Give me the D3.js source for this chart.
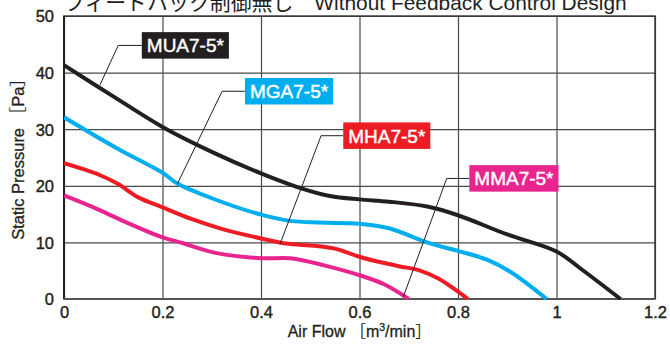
<!DOCTYPE html>
<html><head><meta charset="utf-8">
<script src="https://cdn.jsdelivr.net/npm/d3@7/dist/d3.min.js"></script>
<style>
html,body{margin:0;padding:0;background:#fff;}
svg{display:block;font-family:"Liberation Sans",Arial,Helvetica,sans-serif;}
</style></head>
<body><svg id="c" width="670" height="346"></svg>
<script>
// ---- data ----
const xTicks = [0, 0.2, 0.4, 0.6, 0.8, 1.0, 1.2];
const yTicks = [0, 10, 20, 30, 40, 50];
const seriesNames = ["MUA7-5*", "MGA7-5*", "MHA7-5*", "MMA7-5*"];
const colors = ["#231f20", "#00aeef", "#ed1c24", "#e8258e"];

const muaFlow = [0, 0.1, 0.2, 0.3, 0.4, 0.48, 0.54, 0.6, 0.66, 0.74, 0.8, 0.9, 1.0, 1.05, 1.13];
const muaPres = [41.3, 35.8, 30.4, 26.0, 22.2, 19.6, 18.2, 17.6, 17.2, 16.3, 14.8, 11.4, 8.4, 5.3, 0];

const mgaFlow = [0, 0.11, 0.2, 0.23, 0.3, 0.4, 0.46, 0.52, 0.6, 0.66, 0.74, 0.8, 0.86, 0.91, 0.98];
const mgaPres = [32.1, 26.5, 22.3, 20.4, 17.8, 14.9, 13.8, 13.5, 13.3, 12.5, 9.9, 8.5, 6.9, 4.6, 0];

const mhaFlow = [0, 0.07, 0.11, 0.15, 0.2, 0.26, 0.32, 0.4, 0.45, 0.51, 0.55, 0.61, 0.68, 0.72, 0.76, 0.82];
const mhaPres = [24.0, 22.0, 20.3, 18.0, 16.2, 14.1, 12.4, 10.7, 9.8, 9.4, 8.9, 7.2, 5.8, 5.1, 3.6, 0];

const mmaFlow = [0, 0.07, 0.13, 0.2, 0.24, 0.31, 0.4, 0.46, 0.53, 0.6, 0.65, 0.7];
const mmaPres = [18.3, 15.8, 13.4, 10.9, 9.9, 8.1, 7.2, 7.2, 5.9, 4.2, 2.6, 0];

// label annotations (data units): box left x, box centre y, elbow x, target x, target y
const labelBoxX = [0.158, 0.3675, 0.567, 0.823];
const labelBoxY = [44.8, 36.7, 28.85, 21.3];
const elbowX = [0.110, 0.321, 0.522, 0.777];
const targetX = [0.073, 0.230, 0.4386, 0.689];
const targetY = [37.8, 20.3, 9.7, 0.4];

const titleText = "フィードバック制御無し\u3000Without Feedback Control Design";
const xTitle = "Air Flow";
const yTitle = "Static Pressure";

// ---- chart ----
const svg = d3.select("#c");
const M = {l: 64, r: 655, t: 16, b: 299};
const x = d3.scaleLinear().domain([0, 1.2]).range([M.l, M.r]);
const y = d3.scaleLinear().domain([0, 50]).range([M.b, M.t]);
const FF = "'Liberation Sans',Arial,'Noto Sans CJK JP',sans-serif";

// grid
const gx = svg.append("g").attr("transform", `translate(0,${M.b})`)
  .call(d3.axisBottom(x).tickValues(xTicks).tickSize(-(M.b - M.t)).tickFormat(d => d3.format("~g")(d)).tickPadding(6));
const gy = svg.append("g").attr("transform", `translate(${M.l},0)`)
  .call(d3.axisLeft(y).tickValues(yTicks).tickSize(-(M.r - M.l)).tickPadding(10));
[gx, gy].forEach(g => {
  g.select(".domain").remove();
  g.selectAll(".tick line").attr("stroke", "#4a4a4a").attr("stroke-width", 1.2);
  g.selectAll(".tick text").attr("fill", "#231f20").attr("font-size", 16.5)
    .attr("font-family", FF)
    .attr("stroke", "#231f20").attr("stroke-width", 0.4);
});
gy.selectAll(".tick text").attr("dy", "0.36em");
gx.selectAll(".tick text").attr("dy", "0.8em");

// frame
svg.append("rect").attr("x", M.l).attr("y", M.t).attr("width", M.r - M.l).attr("height", M.b - M.t)
  .attr("fill", "none").attr("stroke", "#333").attr("stroke-width", 1.4);
svg.append("line").attr("x1", M.l).attr("x2", M.l).attr("y1", M.t).attr("y2", M.b)
  .attr("stroke", "#231f20").attr("stroke-width", 2);
svg.append("line").attr("x1", M.l).attr("x2", M.r).attr("y1", M.b).attr("y2", M.b)
  .attr("stroke", "#555").attr("stroke-width", 2);

// curves
const flows = [muaFlow, mgaFlow, mhaFlow, mmaFlow];
const press = [muaPres, mgaPres, mhaPres, mmaPres];
const line = d3.line().x(d => x(d[0])).y(d => y(d[1])).curve(d3.curveCatmullRom.alpha(0.5));
svg.append("clipPath").attr("id", "pc").append("rect")
  .attr("x", M.l).attr("y", M.t).attr("width", M.r - M.l).attr("height", M.b - M.t + 1);
flows.forEach((f, i) => {
  const pts = f.map((v, j) => [v, press[i][j]]);
  svg.append("path").attr("d", line(pts)).attr("fill", "none")
    .attr("stroke", colors[i]).attr("stroke-width", 4).attr("stroke-linejoin", "round")
    .attr("clip-path", "url(#pc)");
});

// labels with leader lines
seriesNames.forEach((name, i) => {
  const bx = x(labelBoxX[i]), by = y(labelBoxY[i]);
  svg.append("polyline")
    .attr("points", [[bx, by], [x(elbowX[i]), by], [x(targetX[i]), y(targetY[i])]].map(p => p.join(",")).join(" "))
    .attr("fill", "none").attr("stroke", "#231f20").attr("stroke-width", 1);
  const g = svg.append("g");
  const t = g.append("text").attr("x", bx + 5).attr("y", by).attr("dy", "0.36em")
    .attr("fill", "#fff").attr("font-size", 19).attr("font-family", FF)
    .attr("stroke", "#fff").attr("stroke-width", 0.45)
    .text(name);
  const w = t.node().getComputedTextLength();
  g.insert("rect", "text").attr("x", bx).attr("y", by - 13.3).attr("width", w + 10).attr("height", 26.5)
    .attr("fill", colors[i]);
});

// title
svg.append("text").attr("x", 64).attr("y", 10).attr("font-size", 20.9).attr("fill", "#231f20")
  .attr("font-family", FF).text(titleText);

// axis titles
const xt = svg.append("text").attr("x", x(0.6)).attr("y", 337).attr("text-anchor", "middle")
  .attr("font-size", 16).attr("fill", "#231f20").attr("font-family", FF);
xt.append("tspan").text(xTitle).attr("stroke", "#231f20").attr("stroke-width", 0.3);
xt.append("tspan").text(" ［");
xt.append("tspan").text("m").attr("stroke", "#231f20").attr("stroke-width", 0.3);
xt.append("tspan").attr("font-size", 10.5).attr("dy", -6).text("3").attr("stroke", "#231f20").attr("stroke-width", 0.3);
xt.append("tspan").attr("dy", 6).text("/min").attr("stroke", "#231f20").attr("stroke-width", 0.3);
xt.append("tspan").text("］");

const yt = svg.append("text").attr("transform", `translate(24,155) rotate(-90)`).attr("text-anchor", "middle")
  .attr("font-size", 16.5).attr("fill", "#231f20").attr("font-family", FF);
yt.append("tspan").text(yTitle).attr("stroke", "#231f20").attr("stroke-width", 0.3);
yt.append("tspan").text(" ［");
yt.append("tspan").text("Pa").attr("stroke", "#231f20").attr("stroke-width", 0.3);
yt.append("tspan").text("］");
</script></body></html>
